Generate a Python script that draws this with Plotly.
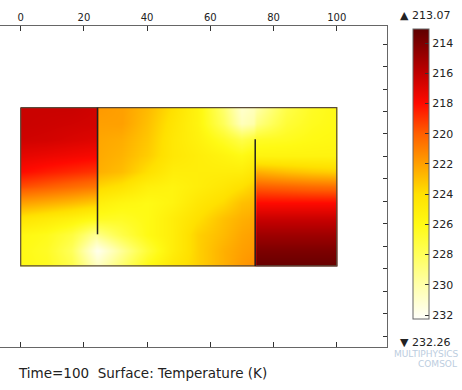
import plotly.graph_objects as go

# ---- data ----
x_cols = [0, 8, 16, 23.9, 24.7, 32, 40, 48, 56, 64, 70, 73.8, 74.6, 84, 92, 100]
y_rows = [0, 5, 10, 15, 20, 25, 30, 35, 40, 45, 50]
temperature = [
    [216.3, 216.3, 216.3, 216.5, 221.8, 222.0, 222.8, 224.0, 225.5, 228.5, 231.0, 230.5, 230.0, 227.5, 226.5, 226.0],
    [216.3, 216.4, 216.5, 216.6, 222.0, 222.0, 223.0, 224.3, 225.5, 228.0, 230.5, 230.0, 229.0, 227.0, 226.3, 226.0],
    [216.5, 216.6, 216.8, 217.0, 222.2, 222.4, 223.2, 224.5, 225.3, 226.5, 227.5, 227.0, 226.5, 226.3, 226.0, 225.8],
    [217.2, 217.4, 217.6, 217.8, 222.3, 222.6, 223.4, 224.5, 225.0, 225.5, 226.0, 225.5, 225.5, 225.5, 225.5, 225.5],
    [218.0, 218.4, 218.7, 219.0, 222.5, 222.9, 224.0, 225.0, 225.0, 225.0, 225.0, 224.5, 222.5, 223.0, 223.3, 223.5],
    [219.6, 220.0, 220.4, 220.8, 223.7, 224.2, 225.2, 225.5, 225.0, 224.5, 224.0, 223.5, 220.0, 220.2, 220.4, 220.5],
    [222.0, 222.4, 222.8, 223.3, 225.2, 225.7, 226.0, 225.5, 224.5, 223.8, 223.0, 222.8, 218.0, 218.0, 218.0, 218.0],
    [224.3, 224.8, 225.3, 226.0, 226.4, 226.5, 226.0, 225.0, 224.0, 223.0, 222.5, 222.3, 216.3, 216.3, 216.3, 216.3],
    [225.8, 226.2, 227.2, 229.5, 229.0, 227.5, 226.0, 225.0, 223.5, 222.8, 222.2, 222.0, 215.0, 215.0, 215.0, 215.0],
    [226.0, 226.5, 228.0, 231.8, 231.8, 229.5, 227.0, 225.0, 223.5, 222.5, 222.0, 221.8, 214.0, 214.0, 214.0, 214.0],
    [226.0, 226.3, 227.5, 230.5, 230.5, 228.5, 226.0, 224.5, 223.5, 222.5, 221.8, 221.5, 213.3, 213.3, 213.3, 213.3],
]
t_min, t_max = 213.07, 232.26
cbar_ticks = [214, 216, 218, 220, 222, 224, 226, 228, 230, 232]
x_ticks = [0, 20, 40, 60, 80, 100]

domain_x = [0, 100, 100, 0, 0]
domain_y = [0, 0, 50, 50, 0]
wall1_x, wall1_y = [24.3, 24.3], [0, 40]
wall2_x, wall2_y = [74.2, 74.2], [10, 50]

# colour stops (temperature -> rgb)
stops = [
    (213.07, "rgb(95,0,0)"), (214, "rgb(125,0,0)"), (216, "rgb(192,0,0)"),
    (218, "rgb(255,10,0)"), (220, "rgb(255,95,0)"), (222, "rgb(255,160,0)"),
    (224, "rgb(255,225,0)"), (226, "rgb(255,250,20)"), (228, "rgb(255,255,90)"),
    (230, "rgb(255,255,170)"), (232.26, "rgb(255,255,250)"),
]
span = t_max - t_min
# colour bar shows low values on top -> plot negated temperatures
colorscale = sorted([((t_max - t) / span, c) for t, c in stops])

# pad edges so the smoothed heatmap spans exactly the domain
xp = [x_cols[0] - 0.05] + x_cols + [x_cols[-1] + 0.05]
yp = [y_rows[0] - 0.05] + y_rows + [y_rows[-1] + 0.05]
zrows = [[-v for v in ([r[0]] + r + [r[-1]])] for r in temperature]
zp = [zrows[0]] + zrows + [zrows[-1]]

W, H = 462, 390
L, R, T, B = 0, 75, 26, 43
pw, ph = W - L - R, H - T - B

fig = go.Figure()
fig.add_trace(go.Heatmap(
    x=xp, y=yp, z=zp, zsmooth="best",
    colorscale=colorscale, zmin=-t_max, zmax=-t_min,
    hoverinfo="skip",
    colorbar=dict(
        thickness=16, thicknessmode="pixels",
        len=290, lenmode="pixels",
        x=413.3 / pw, xanchor="left", xpad=0,
        y=(H - B - 174) / ph, yanchor="middle", ypad=0,
        outlinewidth=1, outlinecolor="#666",
        tickvals=[-v for v in cbar_ticks], ticktext=[str(v) for v in cbar_ticks],
        ticks="inside", ticklen=4, tickcolor="#333",
        tickfont=dict(family="DejaVu Sans", size=11, color="#222"),
    ),
))
fig.add_trace(go.Scatter(x=domain_x, y=domain_y, mode="lines",
                         line=dict(color="#5a4a3a", width=1.2), hoverinfo="skip"))
for wx, wy in ((wall1_x, wall1_y), (wall2_x, wall2_y)):
    fig.add_trace(go.Scatter(x=wx, y=wy, mode="lines",
                             line=dict(color="#222", width=1.5), hoverinfo="skip"))

fig.update_layout(
    width=W, height=H, margin=dict(l=L, r=R, t=T, b=B),
    paper_bgcolor="white", plot_bgcolor="white", showlegend=False,
    font=dict(family="DejaVu Sans", color="#222"),
    xaxis=dict(range=[-6.55, 115.9], side="top", tickvals=x_ticks,
               ticks="inside", ticklen=5, tickcolor="#333",
               showline=True, linecolor="#666", linewidth=1, mirror="ticks",
               showgrid=False, zeroline=False,
               tickfont=dict(size=10, color="#222")),
    yaxis=dict(range=[75.6, -25.8], side="right", tick0=1.2, dtick=7.1,
               ticks="inside", ticklen=4, tickcolor="#333",
               showline=True, linecolor="#666", linewidth=1,
               showticklabels=False, showgrid=False, zeroline=False),
    annotations=[
        dict(text="▲ 213.07", x=398 / pw, y=(H - B - 15) / ph, xref="paper", yref="paper",
             xanchor="left", yanchor="middle", showarrow=False,
             font=dict(size=11, color="#222")),
        dict(text="▼ 232.26", x=398 / pw, y=(H - B - 342) / ph, xref="paper", yref="paper",
             xanchor="left", yanchor="middle", showarrow=False,
             font=dict(size=11, color="#222")),
        dict(text="Time=100  Surface: Temperature (K)", x=16 / pw, y=(H - B - 373) / ph,
             xref="paper", yref="paper", xanchor="left", yanchor="middle", showarrow=False,
             font=dict(size=13.5, color="#222")),
        dict(text="MULTIPHYSICS", x=461 / pw, y=(H - B - 354) / ph,
             xref="paper", yref="paper", xanchor="right", yanchor="middle", showarrow=False,
             font=dict(size=9, color="#bccde0")),
        dict(text="COMSOL", x=459 / pw, y=(H - B - 364) / ph,
             xref="paper", yref="paper", xanchor="right", yanchor="middle", showarrow=False,
             font=dict(size=9, color="#bccde0")),
    ],
)
fig.write_html("out.html")
